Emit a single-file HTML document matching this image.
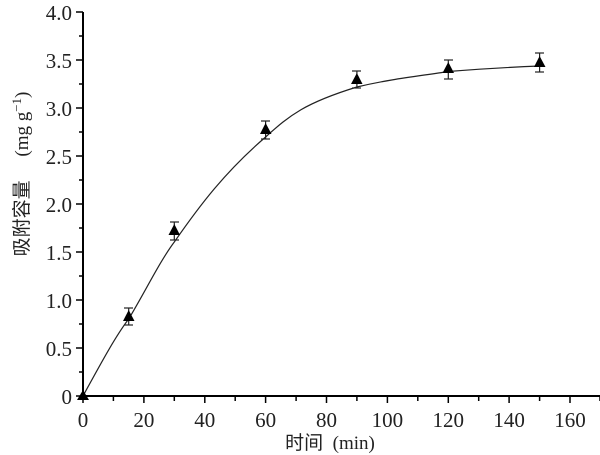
<!DOCTYPE html>
<html><head><meta charset="utf-8"><style>
html,body{margin:0;padding:0;background:#fff;}
svg{display:block;}
</style></head><body>
<svg width="600" height="455" viewBox="0 0 600 455" xmlns="http://www.w3.org/2000/svg">
<g stroke="#000" stroke-width="2" fill="none">
<line x1="83" y1="12" x2="83" y2="397"/>
<line x1="82" y1="396" x2="600" y2="396"/>
</g>
<g stroke="#000" stroke-width="1.5">
<line x1="76" y1="396" x2="83" y2="396"/><line x1="79" y1="372" x2="83" y2="372"/>
<line x1="76" y1="348" x2="83" y2="348"/><line x1="79" y1="324" x2="83" y2="324"/>
<line x1="76" y1="300" x2="83" y2="300"/><line x1="79" y1="276" x2="83" y2="276"/>
<line x1="76" y1="252" x2="83" y2="252"/><line x1="79" y1="228" x2="83" y2="228"/>
<line x1="76" y1="204" x2="83" y2="204"/><line x1="79" y1="180" x2="83" y2="180"/>
<line x1="76" y1="156" x2="83" y2="156"/><line x1="79" y1="132" x2="83" y2="132"/>
<line x1="76" y1="108" x2="83" y2="108"/><line x1="79" y1="84" x2="83" y2="84"/>
<line x1="76" y1="60" x2="83" y2="60"/><line x1="79" y1="36" x2="83" y2="36"/>
<line x1="76" y1="12" x2="83" y2="12"/>
<line x1="83" y1="396" x2="83" y2="403"/><line x1="113.4" y1="396" x2="113.4" y2="401"/>
<line x1="143.9" y1="396" x2="143.9" y2="403"/><line x1="174.3" y1="396" x2="174.3" y2="401"/>
<line x1="204.8" y1="396" x2="204.8" y2="403"/><line x1="235.2" y1="396" x2="235.2" y2="401"/>
<line x1="265.6" y1="396" x2="265.6" y2="403"/><line x1="296.1" y1="396" x2="296.1" y2="401"/>
<line x1="326.5" y1="396" x2="326.5" y2="403"/><line x1="356.9" y1="396" x2="356.9" y2="401"/>
<line x1="387.4" y1="396" x2="387.4" y2="403"/><line x1="417.8" y1="396" x2="417.8" y2="401"/>
<line x1="448.3" y1="396" x2="448.3" y2="403"/><line x1="478.7" y1="396" x2="478.7" y2="401"/>
<line x1="509.1" y1="396" x2="509.1" y2="403"/><line x1="539.6" y1="396" x2="539.6" y2="401"/>
<line x1="570" y1="396" x2="570" y2="403"/><line x1="600" y1="396" x2="600" y2="401"/>
</g>
<g font-family="'Liberation Serif',serif" font-size="21" fill="#222" text-anchor="end">
<text x="72" y="404">0</text><text x="72" y="356">0.5</text><text x="72" y="308">1.0</text>
<text x="72" y="260">1.5</text><text x="72" y="212">2.0</text><text x="72" y="164">2.5</text>
<text x="72" y="116">3.0</text><text x="72" y="68">3.5</text><text x="72" y="20">4.0</text>
</g>
<g font-family="'Liberation Serif',serif" font-size="21" fill="#222" text-anchor="middle">
<text x="83" y="427">0</text><text x="143.9" y="427">20</text><text x="204.8" y="427">40</text>
<text x="265.6" y="427">60</text><text x="326.5" y="427">80</text><text x="387.4" y="427">100</text>
<text x="448.3" y="427">120</text><text x="509.1" y="427">140</text><text x="570" y="427">160</text>
</g>
<text x="330" y="449" text-anchor="middle" font-size="19" fill="#222"><tspan font-family="'Liberation Sans','Noto Sans CJK SC',sans-serif">时间</tspan><tspan font-family="'Liberation Serif',serif" xml:space="preserve">  (min)</tspan></text>
<g transform="translate(28,174) rotate(-90)">
<text x="0" y="0" text-anchor="middle" font-size="19" fill="#222" xml:space="preserve"><tspan font-family="'Liberation Sans','Noto Sans CJK SC',sans-serif">吸附容量</tspan><tspan font-family="'Liberation Serif',serif">     (mg g</tspan><tspan font-family="'Liberation Serif',serif" font-size="13" dy="-7">−1</tspan><tspan font-family="'Liberation Serif',serif" dy="7">)</tspan></text>
</g>
<path d="M83,396 C100,365 115,337 128.7,319 C145,292 160,261 174.3,242 C200,205 225,172 265.6,137 C290,115 305,103 356.9,87 C390,79 420,76 448.3,71.5 C480,69 500,67.5 539.6,66" stroke="#222" stroke-width="1.2" fill="none"/>
<g stroke="#222" stroke-width="1.2">
<line x1="128.7" y1="308" x2="128.7" y2="325"/><line x1="124" y1="308" x2="133" y2="308"/><line x1="124" y1="325" x2="133" y2="325"/>
<line x1="174.3" y1="222" x2="174.3" y2="240"/><line x1="170" y1="222" x2="179" y2="222"/><line x1="170" y1="240" x2="179" y2="240"/>
<line x1="265.6" y1="121" x2="265.6" y2="139"/><line x1="261" y1="121" x2="270" y2="121"/><line x1="261" y1="139" x2="270" y2="139"/>
<line x1="356.9" y1="71" x2="356.9" y2="88"/><line x1="352" y1="71" x2="361" y2="71"/><line x1="352" y1="88" x2="361" y2="88"/>
<line x1="448.3" y1="60" x2="448.3" y2="79"/><line x1="444" y1="60" x2="453" y2="60"/><line x1="444" y1="79" x2="453" y2="79"/>
<line x1="539.6" y1="53" x2="539.6" y2="72"/><line x1="535" y1="53" x2="544" y2="53"/><line x1="535" y1="72" x2="544" y2="72"/>
</g>
<g fill="#000">
<polygon points="83,390 89,400 77,400"/>
<polygon points="128.7,310 134.5,321 123,321"/>
<polygon points="174.3,224 180,235 168.5,235"/>
<polygon points="265.6,123 271.5,134 260,134"/>
<polygon points="356.9,73 362.5,84 351,84"/>
<polygon points="448.3,62 454,73 442.5,73"/>
<polygon points="539.6,56 545.5,67 534,67"/>
</g>
</svg>
</body></html>
